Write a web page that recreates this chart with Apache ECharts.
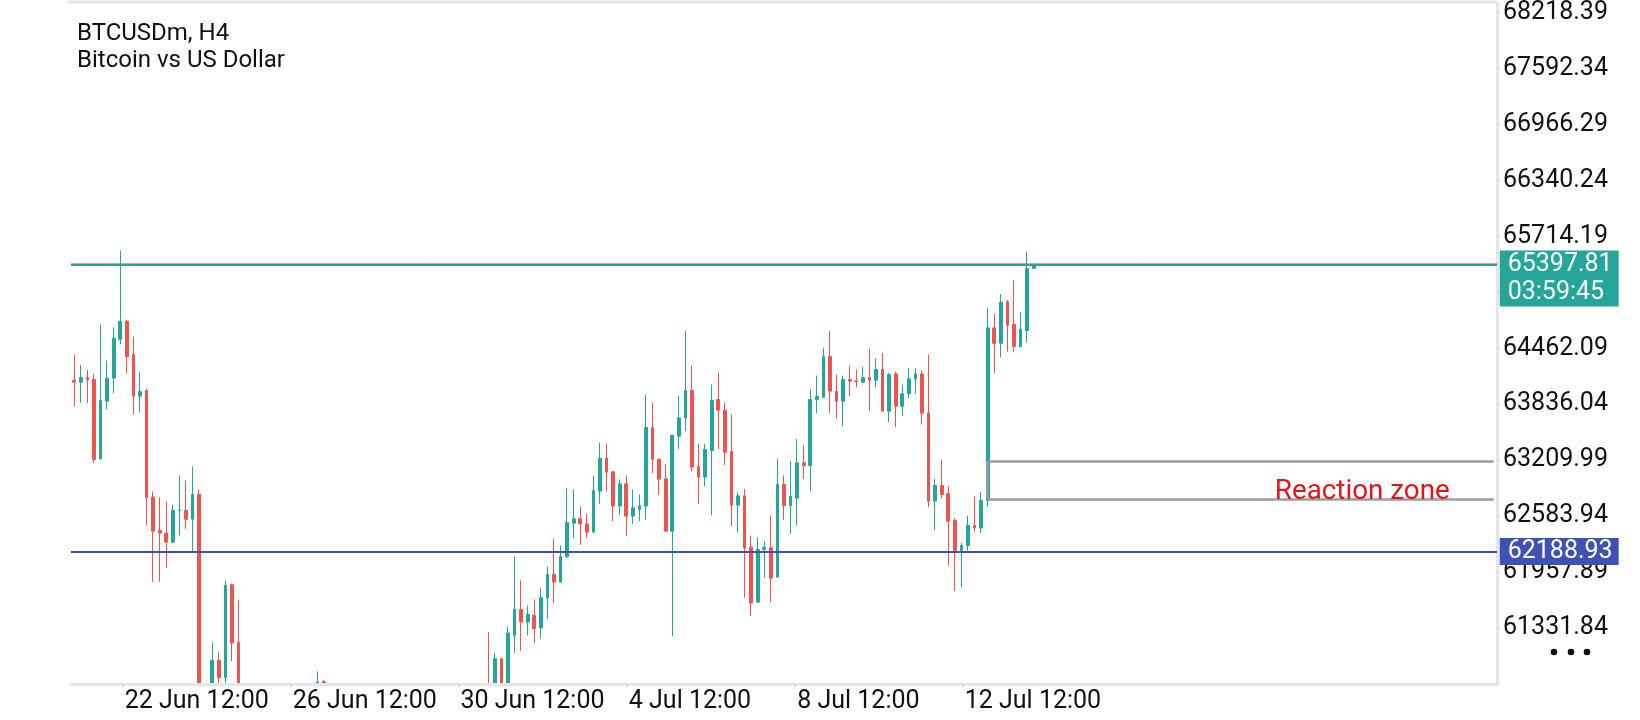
<!DOCTYPE html>
<html><head><meta charset="utf-8">
<script src="https://cdn.jsdelivr.net/npm/echarts@6/dist/echarts.min.js"></script>
<style>html,body{margin:0;padding:0;background:#fff}#chart{width:1640px;height:720px}</style>
</head><body><div id="chart"></div>
<script>
// ---- data (bars hidden below the visible area are estimates) ----
const opens = [64101,64082,64134,64112,63225,63870,64127,64563,64764,64391,63926,63989,62796,62424,62394,62293,62647,62647,62550,62826,
60320,60180,60970,60776,61816,61171,60290,59980,60210,59760,59910,60150,60040,60310,60220,60390,60280,60460,60731,60420,
60180,60350,60090,59820,59950,59700,59880,60060,59930,60120,60010,59780,59920,60180,60050,60240,60130,60320,60210,60380,
60270,60450,60380,60560,60340,60989,60560,61250,61540,61399,61473,61332,61667,61932,61846,62133,62505,62554,62498,62405,
62863,63229,63079,62696,62945,62584,62658,62696,63575,63221,63001,62416,63478,63683,63989,63139,63020,63318,63888,63769,
63307,62707,62811,62237,61622,62211,62230,61902,62938,62703,62785,63180,63150,63885,63914,64369,63978,63870,64112,64097,
64082,64134,64104,64224,63758,64175,63814,63952,64119,64175,63739,62752,62927,62834,62536,62200,62256,62480,62450,62759,
64690,64518,64984,64727,64481,64660,65353];
const closes = [64082,64134,64112,63218,63877,64127,64574,64764,64369,63926,63978,62796,62416,62394,62293,62647,62652,62550,62826,60320,
60180,60970,60776,61809,61164,60290,59980,60210,59760,59910,60150,60040,60310,60220,60390,60280,60460,60728,60420,60180,
60350,60090,59820,59950,59700,59880,60060,59930,60120,60010,59780,59920,60180,60050,60240,60130,60320,60210,60380,60270,
60450,60380,60560,60340,60989,60560,61276,61540,61399,61484,61324,61672,61932,61846,62133,62513,62554,62498,62405,62871,
63229,63076,62696,62945,62584,62677,62703,63575,63221,62998,62416,63486,63683,63989,63132,63020,63329,63877,63769,63299,
62707,62811,62226,61611,62211,62233,61891,62938,62703,62804,63180,63150,63888,63922,64369,63982,63870,64112,64093,64090,
64134,64105,64224,63758,64168,63814,63952,64119,64175,63736,62752,62927,62826,62528,62200,62256,62480,62450,62759,64690,
64518,64977,64720,64481,64675,65353,65397.81];
const lows = [63814,63855,63847,63180,63217,63780,63959,64507,64183,63724,63743,62480,61846,61853,62003,62282,62368,62442,62195,60180,
59840,60050,60540,60610,60963,60020,59710,59850,59520,59600,59820,59890,59960,60080,60130,60160,60190,60370,60250,59980,
60050,59870,59640,59700,59480,59590,59790,59810,59860,59900,59650,59700,59880,59940,59990,60010,60080,60110,60150,60180,
60200,60260,60310,60210,60280,60470,60500,61052,61074,61250,61164,61212,61436,61611,61835,62114,62338,62263,62338,62400,
62722,62864,62528,62599,62360,62498,62528,62543,63065,62822,62416,61242,63337,63534,63087,62722,62919,62591,63333,63154,
62472,62405,61670,61467,61611,61894,61622,61891,62543,62386,62480,63001,62863,63736,63914,63736,63680,63590,63926,64026,
64071,63758,64026,63758,63635,63579,63702,63903,63952,63609,62685,62431,62785,62030,61745,61790,62200,62413,62394,62697,
64183,64362,64425,64418,64481,64530,65348];
const highs = [64392,64276,64220,64175,64727,64325,64693,65554,64783,64593,64201,64011,62860,62796,62748,62714,63039,62983,63139,62878,
60560,61171,61060,61865,61830,61652,60420,60350,60300,60080,60280,60330,60440,60480,60520,60570,60610,60847,60754,60510,
60470,60420,60150,60080,60020,59990,60170,60140,60240,60230,60080,60030,60260,60290,60330,60350,60410,60440,60490,60520,
60560,60590,60650,61287,61052,60995,61350,62133,61865,61585,61652,61783,62021,62330,62256,62901,62878,62692,62610,63039,
63404,63393,63085,62994,63039,62882,62826,63944,63855,63225,63169,63493,63929,64660,64265,63393,63393,64056,64190,63855,
63721,62848,62889,62364,62342,62304,62591,63225,63039,63199,63449,63374,64000,64157,64462,64652,64168,64157,64269,64224,
64257,64459,64347,64410,64187,64201,64056,64242,64239,64213,64388,63001,63214,62919,62560,62282,62591,62804,62852,64917,
64846,65070,65002,65226,64865,65543,65400];

const priceTickLabels = ['68218.39','67592.34','66966.29','66340.24','65714.19','65088.14','64462.09','63836.04','63209.99','62583.94','61957.89','61331.84'];
const timeTickLabels = ['22 Jun 12:00','26 Jun 12:00','30 Jun 12:00','4 Jul 12:00','8 Jul 12:00','12 Jul 12:00'];
const timeTickBars = [7.37, 32.94, 58.45, 84.08, 109.7, 135.2];

const bidPrice = 65397.81;
const askPrice = 65415;
const countdown = '03:59:45';
const supportPrice = 62188.93;
const zoneTop = 63197;
const zoneBottom = 62772;
const zoneStartBar = 139;
const zoneLabelBar = 195.5;
const zoneLabel = 'Reaction zone';
const chartTitle = 'BTCUSDm, H4';
const chartSubtitle = 'Bitcoin vs US Dollar';

// ---- layout constants ----
const SLOTS = 217;               // bar slots incl. empty chart shift on the right
const LAST_SLOT = SLOTS - 1;
const Y_MIN = 60705.79, Y_MAX = 68331.2, Y_STEP = 626.05;
const UP = '#26a69a', DOWN = '#ef5350', BLUE = '#3f51b5', FRAME = '#e6e6e6', ZONE = '#9e9e9e';
const FONT = 'Roboto';

const categories = Array.from({length: SLOTS}, (_, i) => String(i));
const candles = opens.map((o, i) => [o, closes[i], lows[i], highs[i]]);

const chart = echarts.init(document.getElementById('chart'), null, {renderer: 'canvas'});
const zoneLine = {color: ZONE, width: 2.5, type: 'solid'};

chart.setOption({
  animation: false,
  backgroundColor: '#fff',
  textStyle: {fontFamily: FONT},
  title: {
    text: chartTitle + '\n' + chartSubtitle,
    left: 77, top: 20, padding: 0,
    textStyle: {fontFamily: FONT, fontSize: 24, lineHeight: 27, fontWeight: 'normal', color: '#111'}
  },
  grid: {left: 71, right: 143, top: 2, bottom: 36, containLabel: false},
  xAxis: [
    {
      type: 'category', data: categories, boundaryGap: true, z: 10,
      axisLine: {show: true, onZero: false, lineStyle: {color: FRAME, width: 3}},
      axisTick: {show: false}, axisLabel: {show: false}, splitLine: {show: false}
    },
    {
      type: 'value', min: -0.5, max: SLOTS - 0.5, position: 'bottom', z: 10,
      axisLine: {show: false, onZero: false},
      splitLine: {show: false},
      axisTick: {show: true, length: 3, lineStyle: {color: '#d6d6d6', width: 2}, customValues: timeTickBars},
      axisLabel: {
        show: true, customValues: timeTickBars, align: 'left', margin: 5, padding: [0, 0, 0, 2],
        fontFamily: FONT, fontSize: 25, color: '#111',
        formatter: function (v) {
          for (let k = 0; k < timeTickBars.length; k++) {
            if (Math.abs(timeTickBars[k] - v) < 0.01) return timeTickLabels[k];
          }
          return '';
        }
      }
    }
  ],
  yAxis: {
    type: 'value', position: 'right', min: Y_MIN, max: Y_MAX, interval: Y_STEP, scale: true,
    axisLine: {show: true, onZero: false, lineStyle: {color: FRAME, width: 3}},
    axisTick: {show: true, length: 3, lineStyle: {color: '#cfcfcf', width: 1}},
    splitLine: {show: false},
    axisLabel: {
      margin: 6, fontFamily: FONT, fontSize: 25, color: '#111',
      showMinLabel: false, showMaxLabel: false,
      formatter: function (v) {
        const s = Number(v).toFixed(2);
        return priceTickLabels.indexOf(s) >= 0 ? s : '';
      }
    }
  },
  series: [{
    type: 'candlestick',
    xAxisIndex: 0, yAxisIndex: 0,
    data: candles,
    barWidth: 3.2,
    itemStyle: {color: UP, color0: DOWN, borderColor: UP, borderColor0: DOWN, borderWidth: 1},
    emphasis: {disabled: true},
    markLine: {
      silent: true, symbol: ['none', 'none'], animation: false,
      label: {show: false},
      data: [
        {yAxis: askPrice, lineStyle: {color: DOWN, width: 1, type: 'solid', opacity: 0.6}},
        {yAxis: bidPrice, lineStyle: {color: UP, width: 2, type: 'solid'}},
        {yAxis: supportPrice, lineStyle: {color: BLUE, width: 2, type: 'solid'}},
        [{coord: [zoneStartBar, zoneTop], lineStyle: zoneLine}, {coord: [LAST_SLOT, zoneTop], lineStyle: zoneLine}],
        [{coord: [zoneStartBar, zoneBottom], lineStyle: zoneLine}, {coord: [LAST_SLOT, zoneBottom], lineStyle: zoneLine}],
        [{coord: [zoneStartBar, zoneTop], lineStyle: zoneLine}, {coord: [zoneStartBar, zoneBottom], lineStyle: zoneLine}]
      ]
    },
    markPoint: {
      silent: true, animation: false, symbol: 'circle', symbolSize: 0,
      itemStyle: {color: 'rgba(0,0,0,0)'},
      label: {
        show: true, position: 'right', distance: 6, color: '#fff',
        fontFamily: FONT, fontSize: 25, padding: [0, 6, 0, 8]
      },
      data: [
        {coord: [LAST_SLOT, bidPrice],
         label: {formatter: bidPrice.toFixed(2) + '\n' + countdown, backgroundColor: UP, lineHeight: 28, offset: [0, 14]}},
        {coord: [LAST_SLOT, supportPrice],
         label: {formatter: supportPrice.toFixed(2), backgroundColor: BLUE, lineHeight: 27}},
        {coord: [zoneLabelBar, zoneBottom],
         label: {formatter: zoneLabel, position: 'top', distance: 0, offset: [0, 7], color: '#e3141c',
                 fontSize: 27.8, padding: 0, backgroundColor: 'transparent'}}
      ]
    }
  }],
  graphic: [
    {type: 'rect', z: 5, silent: true, shape: {x: 0, y: 684, width: 1496, height: 36}, style: {fill: '#fff'}},
    {type: 'line', z: 6, silent: true, shape: {x1: 68, y1: 2, x2: 1498, y2: 2}, style: {stroke: FRAME, lineWidth: 3}},
    {type: 'circle', z: 6, silent: true, shape: {cx: 1554, cy: 652, r: 3.3}, style: {fill: '#111'}},
    {type: 'circle', z: 6, silent: true, shape: {cx: 1571, cy: 652, r: 3.3}, style: {fill: '#111'}},
    {type: 'circle', z: 6, silent: true, shape: {cx: 1587, cy: 652, r: 3.3}, style: {fill: '#111'}}
  ]
});
</script>
</body></html>
